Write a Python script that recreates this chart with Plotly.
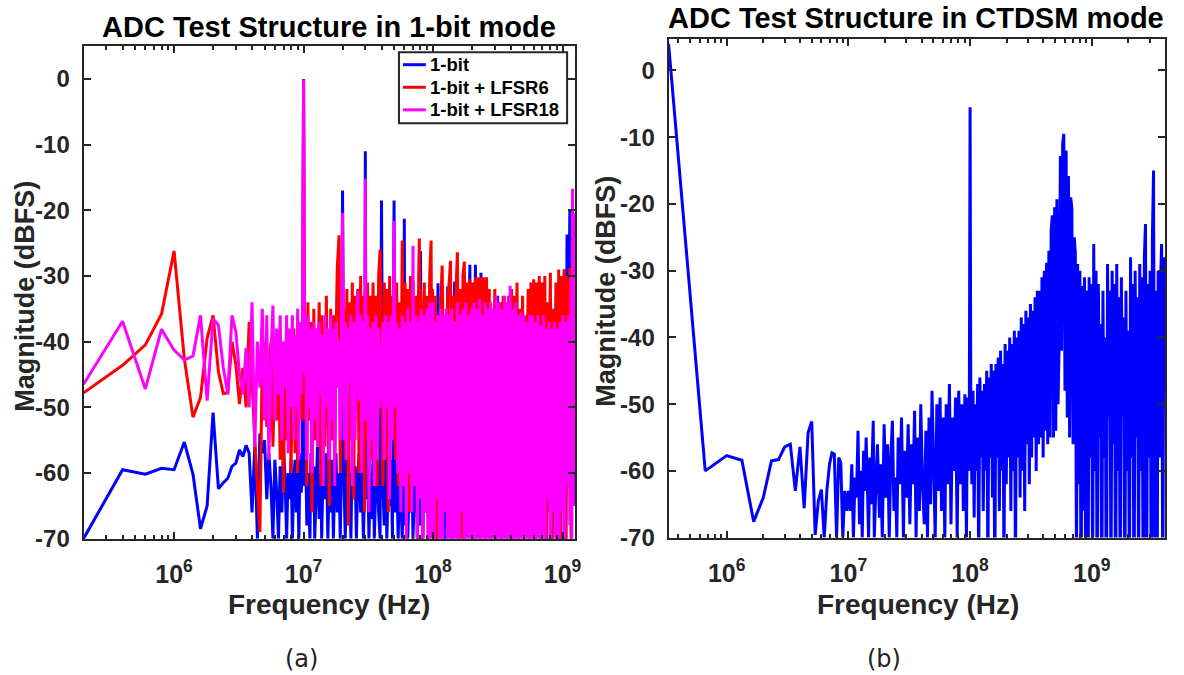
import math
import plotly.graph_objects as go

# ---------------- data ----------------
# (a) FFT bin indices (bin width 200 kHz) and magnitudes in dBFS
DF_A = 2e5
bins_a = [
    1, 2, 3, 4, 5, 6, 7, 8, 9, 10,
    11, 12, 13, 14, 15, 16, 17, 18, 19, 20,
    21, 22, 23, 24, 25, 26, 27, 28, 29, 30,
    31, 32, 33, 34, 35, 36, 37, 38, 39, 40,
    41, 42, 43, 44, 45, 46, 47, 48, 49, 50,
    51, 52, 53, 54, 56, 57, 58, 60, 61, 63,
    64, 66, 68, 69, 71, 73, 75, 77, 79, 81,
    83, 85, 87, 89, 91, 94, 96, 98, 100, 103,
    105, 108, 111, 113, 116, 119, 122, 125, 128, 131,
    134, 138, 141, 145, 148, 150, 152, 156, 160, 164,
    168, 172, 176, 181, 185, 190, 195, 200, 205, 210,
    215, 220, 226, 231, 237, 243, 250, 256, 262, 269,
    276, 282, 289, 296, 300, 304, 311, 319, 327, 335,
    343, 350, 360, 369, 378, 387, 392, 397, 400, 407,
    417, 428, 438, 450, 460, 471, 483, 490, 495, 500,
    507, 520, 533, 546, 560, 574, 588, 603, 618, 633,
    649, 665, 682, 699, 716, 734, 752, 771, 790, 810,
    830, 851, 872, 894, 916, 939, 962, 986, 1011, 1036,
    1062, 1089, 1116, 1144, 1172, 1201, 1231, 1262, 1294, 1326,
    1359, 1393, 1428, 1464, 1500, 1538, 1576, 1616, 1656, 1697,
    1740, 1783, 1828, 1874, 1920, 1968, 2018, 2068, 2120, 2173,
    2227, 2283, 2340, 2398, 2458, 2520, 2583, 2647, 2714, 2781,
    2851, 2922, 2995, 3070, 3147, 3226, 3306, 3389, 3474, 3561,
    3650, 3741, 3834, 3930, 4028, 4129, 4232, 4338, 4447, 4558,
    4672, 4788, 4908, 5031, 5157, 5285, 5418, 5553, 5692, 5834,
    5900, 5980, 6040, 6100, 6150, 6200, 6250,
]
mag_1bit = [
    -70, -59.5, -60.2, -59.3, -59.5, -55.3, -60.2, -68.5, -65, -50.8,
    -62.4, -61.5, -60.8, -59, -58.5, -56.5, -57.5, -55.8, -57, -66,
    -56, -70, -54, -57, -55, -64, -57, -62, -70, -58,
    -63, -70, -59, -66, -56, -61, -70, -60, -64, -58,
    -70, -61, -58, -66, -60, -70, -57, -63, -59, 0,
    -62, -58, -68, -60, -70, -57, -65, -59, -70, -61,
    -56, -67, -60, -70, -58, -64, -57, -70, -60, -66,
    -58, -70, -61, -57, -66, -60, -70, -59, -17, -63,
    -70, -57, -65, -60, -70, -56, -64, -59, -70, -61,
    -57, -66, -60, -70, -62, -11, -64, -58, -70, -60,
    -67, -57, -70, -61, -58, -66, -70, -18.5, -62, -68,
    -57, -70, -60, -65, -58, -70, -18.5, -66, -60, -70,
    -59, -64, -70, -60, -21.3, -68, -58, -70, -62, -66,
    -59, -70, -62, -57, -70, -64, -60, -68, -26.2, -61,
    -70, -58, -66, -60, -70, -62, -57, -68, -64, -45,
    -66, -55, -70, -31.1, -64, -50, -70, -52, -75, -48,
    -31.6, -64, -50, -70, -48, -30.9, -66, -47, -70, -50,
    -64, -46, -70, -49, -66, -47, -28.3, -68, -48, -70,
    -28.3, -64, -46, -70, -29.5, -66, -48, -70, -46, -64,
    -47, -70, -45, -66, -48, -70, -33, -64, -46, -70,
    -47, -65, -45, -70, -48, -63, -46, -70, -47, -66,
    -45, -70, -48, -64, -46, -70, -47, -65, -45, -70,
    -46, -63, -44, -70, -45, -66, -43, -70, -46, -64,
    -44, -78, -45, -66, -43, -80, -44, -65, -42, -76,
    -43, -80, -40, -62, -29, -78, -23.7, -50, -19.8, -45,
    -20, -50, -22, -60, -40, -65, -60,
]
mag_lfsr6 = [
    -47.8, -43.6, -40.5, -35.8, -26.2, -42.6, -51.5, -48.5, -39.5, -36,
    -44.6, -47.9, -47.8, -40, -43.5, -49.5, -44, -50, -37, -46,
    -55, -62, -69, -42, -40, -53, -45, -40, -56, -44,
    -52, -39, -58, -45, -63, -40, -55, -47, -42, -60,
    -45, -38, -57, -41, -60, -46, -37, -52, -44, -0.5,
    -52, -36, -62, -34, -52, -37, -66, -35, -55, -38,
    -48, -34, -62, -36, -41, -56, -33, -50, -65, -35,
    -55, -36, -60, -40, -28.8, -23.8, -60, -33, -45, -35,
    -58, -32, -68, -34, -55, -31, -64, -33, -50, -32,
    -60, -30, -52, -33, -66, -38, -55, -31, -62, -33,
    -58, -31, -50, -33, -62, -30, -26, -45, -62, -31,
    -58, -32, -66, -30, -52, -33, -40, -58, -31, -62,
    -34, -55, -24.6, -58, -38, -31, -55, -32, -66, -30,
    -60, -31, -52, -33, -64, -30, -24.3, -57, -32, -36,
    -70, -31, -58, -33, -62, -30, -24.6, -55, -32, -40,
    -62, -33, -75, -36, -60, -34, -28.4, -44, -50, -56,
    -33, -31.3, -27.7, -58, -33, -50, -32, -26.4, -55, -32,
    -76, -30, -27.8, -48, -31, -56, -30.5, -45, -31, -60,
    -30.2, -50, -30.2, -62, -30.2, -48, -30.2, -58, -30.2, -46,
    -32, -60, -35, -48, -32, -66, -36, -50, -34, -60,
    -33, -46, -34, -64, -33, -50, -32, -58, -33, -45,
    -31, -66, -35, -50, -33, -58, -36, -46, -32, -62,
    -31, -50, -30.5, -62, -31, -46, -30, -58, -31, -52,
    -30, -75, -34, -48, -29.5, -78, -35, -50, -31, -72,
    -29, -76, -30, -60, -29, -80, -30, -45, -28.8, -74,
    -31, -40, -29, -50, -32, -55, -45,
]
mag_lfsr18 = [
    -46.5, -36.9, -47.2, -38.1, -41.3, -42.8, -42.2, -36, -49, -36.5,
    -37.5, -44, -48, -36, -38.5, -45, -48, -41, -50, -34,
    -56, -40, -47, -35, -52, -36, -58, -42, -34.5, -52,
    -38, -48, -36, -55, -40, -47, -36, -57, -38, -50,
    -36, -55, -39, -50, -35, -58, -37, -48, -40, -0.1,
    -45, -37, -58, -36, -50, -38, -60, -37, -52, -38,
    -56, -37, -48, -39, -62, -36, -50, -38, -58, -36,
    -52, -38, -62, -37, -47, -40, -55, -38, -20.4, -55,
    -37, -58, -38, -46, -36, -62, -37, -55, -38, -32.3,
    -49, -36, -60, -37, -52, -15.2, -52, -36, -66, -38,
    -55, -37, -62, -36, -58, -38, -50, -45, -37, -58,
    -36, -50, -37, -64, -36, -55, -21.6, -50, -37, -60,
    -38, -66, -36, -62, -48, -37, -70, -35, -60, -37,
    -66, -25.4, -62, -36, -72, -37, -64, -36, -50, -35,
    -75, -36, -66, -35, -78, -34, -70, -35, -80, -34,
    -78, -37, -64, -36, -82, -35, -88, -36, -66, -35,
    -85, -36, -74, -35, -90, -37, -80, -34, -86, -36,
    -66, -35, -76, -34, -85, -36, -78, -35, -90, -34,
    -74, -35, -86, -33.5, -90, -36, -80, -34, -88, -35,
    -78, -34, -90, -35, -80, -33, -86, -34, -90, -35,
    -82, -33, -90, -34, -78, -31.5, -86, -35, -90, -34,
    -80, -36, -90, -35.5, -85, -36, -90, -37, -78, -36,
    -90, -36, -82, -37, -90, -36, -85, -37.5, -90, -36,
    -82, -38, -64, -37, -85, -38, -66, -37, -80, -38,
    -90, -37, -66, -36, -90, -37, -62, -36, -68, -30,
    -70, -16.7, -65, -20.5, -60, -22, -50,
]

# (b) FFT bin indices (bin width 1e8/300 Hz) and magnitudes in dBFS
DF_B = 1e8 / 300
bins_b = [
    1, 2, 3, 4, 5, 6, 7, 8, 9, 10,
    11, 12, 13, 14, 15, 16, 17, 18, 19, 20,
    21, 22, 23, 24, 25, 26, 27, 28, 29, 30,
    31, 32, 33, 34, 35, 36, 37, 38, 39, 40,
    41, 42, 44, 45, 46, 48, 49, 51, 52, 54,
    55, 57, 59, 61, 63, 65, 67, 69, 71, 73,
    75, 77, 80, 82, 85, 87, 90, 93, 96, 99,
    102, 105, 108, 111, 115, 118, 122, 126, 130, 134,
    138, 142, 146, 151, 155, 160, 165, 170, 175, 180,
    186, 191, 197, 203, 209, 215, 222, 228, 235, 242,
    249, 257, 264, 272, 280, 286, 292, 296, 300, 304,
    310, 317, 324, 331, 338, 346, 353, 361, 369, 377,
    385, 394, 402, 411, 420, 429, 439, 448, 458, 468,
    479, 489, 500, 511, 522, 534, 545, 557, 570, 582,
    595, 608, 621, 635, 649, 663, 678, 693, 708, 724,
    740, 756, 773, 790, 807, 825, 843, 862, 881, 900,
    920, 940, 961, 982, 1004, 1026, 1048, 1071, 1095, 1119,
    1144, 1169, 1195, 1221, 1248, 1275, 1303, 1332, 1361, 1391,
    1422, 1453, 1485, 1518, 1551, 1585, 1620, 1656, 1692, 1729,
    1767, 1806, 1846, 1887, 1928, 1971, 2014, 2058, 2104, 2150,
    2197, 2246, 2295, 2346, 2397, 2450, 2504, 2559, 2615, 2673,
    2732, 2792, 2853, 2916, 2980, 3046, 3113, 3181, 3251, 3323,
    3396, 3471, 3547, 3625, 3705, 3786, 3870, 3955, 4042, 4131,
    4221, 4314, 4409, 4506, 4605, 4707, 4810, 4916, 5024, 5135,
    5248, 5363, 5481, 5602, 5725, 5851, 5980, 6111, 6246, 6383,
    6524, 6667, 6814, 6964, 7117, 7273, 7433, 7597, 7764, 7935,
    8109, 8288, 8470, 8657, 8847, 9042, 9241, 9444, 9652, 9864,
    10081, 10303, 10530, 10761, 11000, 11240, 11490, 11740, 12000,
]
mag_ctdsm = [
    4, -60, -57.7, -58.4, -67.6, -64, -58.5, -58.3, -56.4, -56,
    -63, -56.4, -65.6, -54.3, -52.6, -69.6, -64.5, -62.8, -70, -62.8,
    -59, -57.3, -57.5, -70, -58, -58.8, -70, -63, -66, -63,
    -66, -59, -70, -61, -64, -54, -68, -60, -70, -57,
    -63, -55, -70, -58, -65, -52.5, -70, -60, -56, -67,
    -59, -70, -53, -64, -56, -70, -58, -52.5, -66, -61,
    -70, -55, -62, -52, -70, -57, -64, -53, -68, -56,
    -62, -51, -70, -55, -66, -50, -62, -68, -54, -70,
    -52, -65, -48, -60, -70, -50, -63, -49, -66, -52,
    -70, -50, -62, -47, -68, -52, -60, -49, -70, -48,
    -62, -50, -66, -48.5, -70, -49, -60, -49, -5.5, -49,
    -62, -48, -67, -50, -60, -47, -75, -46, -58, -48,
    -66, -47, -60, -45, -75, -46, -58, -44, -64, -45,
    -78, -44, -58, -43, -66, -42, -60, -44, -75, -41,
    -62, -42, -58, -40, -66, -41, -60, -39, -76, -40,
    -58, -39, -64, -37, -60, -38, -66, -36, -56, -37,
    -62, -35, -58, -36, -55, -34, -60, -33, -56, -33,
    -55, -31, -58, -30, -54, -28.8, -56, -27, -55, -24,
    -21.7, -55, -20.5, -54, -19.3, -50, -40, -12.8, -42, -11,
    -9.5, -48, -12, -52, -15.8, -55, -19, -20.7, -56, -25,
    -27.3, -75, -29, -62, -30, -85, -32.3, -66, -31, -80,
    -33, -85, -31, -58, -32, -80, -26, -60, -30, -88,
    -32, -55, -38, -82, -33, -58, -40, -88, -29, -52,
    -33, -80, -30, -56, -32, -88, -29, -60, -34, -82,
    -31, -52, -37, -85, -33, -60, -39, -80, -28, -58,
    -32, -88, -30, -55, -34, -78, -29, -60, -31, -85,
    -28, -23, -80, -32, -58, -30, -85, -25, -15, -75,
    -33, -88, -30, -58, -32, -26, -80, -28, -45,
]

y_ticks = [-70, -60, -50, -40, -30, -20, -10, 0]
y_ticktext = ["-70", "-60", "-50", "-40", "-30", "-20", "-10", "0"]
x_ticks = [1e6, 1e7, 1e8, 1e9]
x_ticktext = ["10<sup>6</sup>", "10<sup>7</sup>", "10<sup>8</sup>", "10<sup>9</sup>"]
legend_names = ["1-bit", "1-bit + LFSR6", "1-bit + LFSR18"]
legend_colors = ["#0000ff", "#ff0000", "#ff00ff"]

freq_a = [k * DF_A for k in bins_a]
freq_b = [k * DF_B for k in bins_b]

# ---------------- figure ----------------
W, H = 1184, 675
S = 660 / 675          # vertical compensation observed in the renderer
AX = "#262626"
FONT = "Liberation Sans, Arial, sans-serif"


def px_x(p):
    return p / W


def px_y(p):
    return 1 - (p / S) / H


fig = go.Figure()
LW = 3
for name, color, mag in zip(legend_names, legend_colors, [mag_1bit, mag_lfsr6, mag_lfsr18]):
    fig.add_trace(go.Scatter(x=freq_a, y=mag, mode="lines", name=name, showlegend=False,
                             line=dict(color=color, width=LW, simplify=False),
                             xaxis="x", yaxis="y"))
fig.add_trace(go.Scatter(x=freq_b, y=mag_ctdsm, mode="lines", name="CTDSM", showlegend=False,
                         line=dict(color="#0000ff", width=LW, simplify=False),
                         xaxis="x2", yaxis="y2"))


def minor_vals(lo, hi):
    out = []
    for d in range(lo, hi + 1):
        for m in range(2, 10):
            out.append(m * 10 ** d)
    return out


common = dict(showline=True, linecolor=AX, linewidth=2, mirror="ticks", ticks="inside",
              tickcolor=AX, tickwidth=2, showgrid=False, zeroline=False)
xfont = dict(family=FONT, size=25, color=AX, weight="bold")
yfont = dict(family=FONT, size=24, color=AX, weight="bold")
minor = dict(ticks="inside", ticklen=4, tickwidth=2, tickcolor=AX,
             tickmode="array", tickvals=minor_vals(5, 9))

fig.update_layout(
    width=W, height=H, margin=dict(l=0, r=0, t=0, b=0),
    paper_bgcolor="white", plot_bgcolor="white", showlegend=False,
    xaxis=dict(type="log", range=[math.log10(2e5), math.log10(1.25e9)],
               domain=[px_x(84), px_x(578)], anchor="y",
               tickmode="array", tickvals=x_ticks, ticktext=x_ticktext, ticklen=7,
               ticklabelstandoff=12, tickfont=xfont, minor=minor, **common),
    yaxis=dict(range=[-70, 5], domain=[px_y(537), px_y(46)], anchor="x",
               tickmode="array", tickvals=y_ticks, ticktext=y_ticktext, ticklen=7,
               ticklabelstandoff=7, tickfont=yfont, **common),
    xaxis2=dict(type="log", range=[math.log10(DF_B), math.log10(4e9)],
                domain=[px_x(672), px_x(1171)], anchor="y2",
                tickmode="array", tickvals=x_ticks, ticktext=x_ticktext, ticklen=7,
                ticklabelstandoff=12, tickfont=xfont, minor=minor, **common),
    yaxis2=dict(range=[-70, 4.7], domain=[px_y(536), px_y(39)], anchor="x2",
                tickmode="array", tickvals=y_ticks, ticktext=y_ticktext, ticklen=7,
                ticklabelstandoff=7, tickfont=yfont, **common),
)

ann = []
shapes = []


def add_text(text, x, y, size, weight="bold", color="black", angle=0, family=FONT,
             xanchor="center"):
    ann.append(dict(text=text, x=px_x(x), y=px_y(y), xref="paper", yref="paper",
                    xanchor=xanchor, yanchor="middle", showarrow=False, textangle=angle,
                    font=dict(family=family, size=size, color=color, weight=weight)))


add_text("ADC Test Structure in 1-bit mode", 331, 27, 29)
add_text("ADC Test Structure in CTDSM mode", 921, 18, 29)
add_text("Frequency (Hz)", 331, 603, 28, color=AX)
add_text("Frequency (Hz)", 923, 603, 28, color=AX)
add_text("Magnitude (dBFS)", 25, 295, 27, color=AX, angle=-90)
add_text("Magnitude (dBFS)", 609, 290, 27, color=AX, angle=-90)
add_text("(a)", 303, 657, 24, weight="normal", color="#222222", family="DejaVu Sans, sans-serif")
add_text("(b)", 889, 657, 24, weight="normal", color="#222222", family="DejaVu Sans, sans-serif")

# legend box (panel a)
shapes.append(dict(type="rect", xref="paper", yref="paper",
                   x0=px_x(401), x1=px_x(570), y0=px_y(123), y1=px_y(52),
                   fillcolor="white", line=dict(color=AX, width=2), layer="above"))
for i, (name, color) in enumerate(zip(legend_names, legend_colors)):
    yy = 64.5 + i * 22.5
    shapes.append(dict(type="line", xref="paper", yref="paper",
                       x0=px_x(405), x1=px_x(428), y0=px_y(yy), y1=px_y(yy),
                       line=dict(color=color, width=3), layer="above"))
    add_text(name, 430, yy, 18.5, color="black", xanchor="left")

fig.update_layout(annotations=ann, shapes=shapes)

fig.write_html("out.html")
